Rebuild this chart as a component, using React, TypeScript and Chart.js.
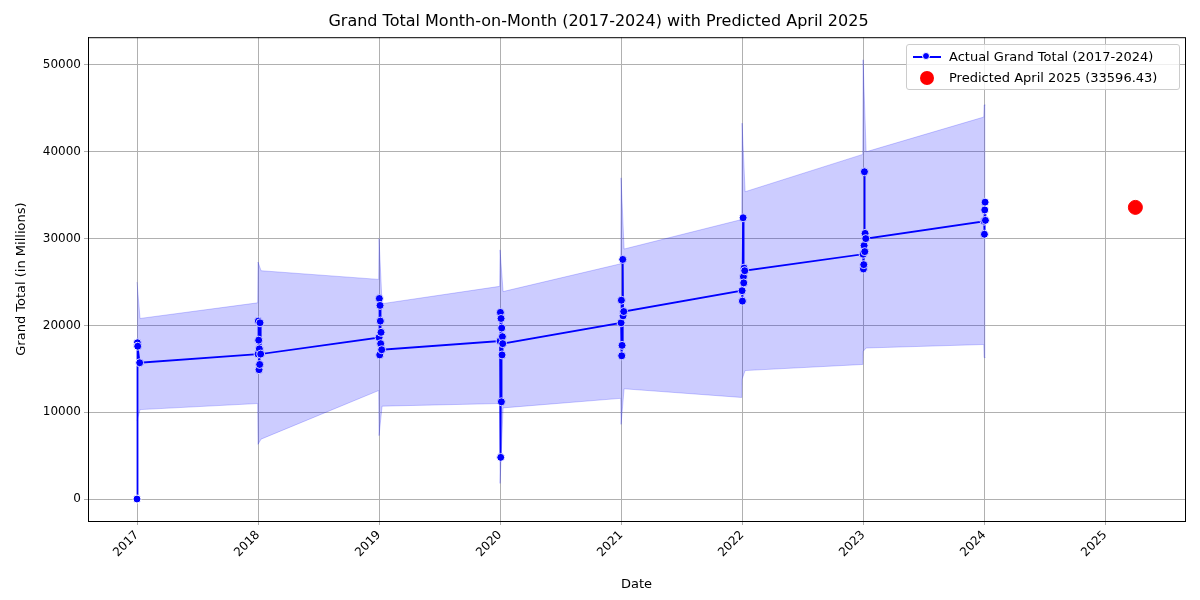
import { useEffect, useRef } from "react";
import Chart from "chart.js/auto";

const years = [2017, 2018, 2019, 2020, 2021, 2022, 2023, 2024];
// per year: [day offset in January, value]
const actual: [number, number][][] = [
  [[0, 0], [1, 18000], [2, 17600], [8, 15700]],
  [[0, 16700], [1, 20500], [2, 18300], [3, 14900], [4, 17300], [5, 15500], [6, 20300], [8, 16700]],
  [[0, 18600], [1, 23100], [2, 16600], [3, 22300], [4, 20500], [5, 17900], [6, 19200], [8, 17200]],
  [[0, 18200], [1, 21500], [2, 4800], [3, 20800], [4, 11200], [5, 19700], [6, 16600], [7, 18700], [8, 17900]],
  [[0, 20300], [1, 22900], [2, 16500], [3, 17700], [5, 27600], [6, 21100], [8, 21600]],
  [[0, 24000], [1, 22800], [3, 32400], [4, 25600], [5, 24900], [6, 26600], [8, 26300]],
  [[0, 28200], [1, 26500], [2, 27000], [3, 29200], [4, 37700], [5, 28500], [6, 30600], [8, 30000]],
  [[0, 32000], [1, 30500], [2, 33300], [3, 34200], [4, 32100]],
];
// band: spike at Jan 1, start after January cluster, end before next year
const upperSpike = [25000, 27300, 30000, 28700, 37000, 43300, 50600, 45400];
const upperStart = [20800, 26300, 22500, 23900, 28800, 35400, 40000];
const upperEnd = [22600, 25300, 24500, 27100, 32200, 39700, 44000];
const lowerSpike = [9000, 6300, 7300, 1800, 8600, 13800, 17000, 16300];
const lowerStart = [10300, 6900, 10700, 10500, 12700, 14800, 17400];
const lowerEnd = [11000, 12500, 11000, 11600, 11700, 15500, 17800];
const predictedX = 2025.25;
const predictedY = 33596.43;
const xTicks = [2017, 2018, 2019, 2020, 2021, 2022, 2023, 2024, 2025];

function band(spike: number[], start: number[], end: number[]) {
  const pts: { x: number; y: number }[] = [];
  years.forEach((yr, i) => {
    pts.push({ x: yr, y: spike[i] });
    if (i < start.length) {
      pts.push({ x: yr + 0.025, y: start[i] });
      pts.push({ x: yr + 0.997, y: end[i] });
    } else {
      pts.push({ x: yr + 0.012, y: spike[i] });
    }
  });
  return pts;
}

const frame = {
  id: "frame",
  afterDraw(chart: any) {
    const { ctx, chartArea: a } = chart;
    ctx.save();
    ctx.strokeStyle = "#000";
    ctx.lineWidth = 1;
    ctx.strokeRect(a.left + 0.5, a.top + 0.5, a.right - a.left, a.bottom - a.top);
    ctx.restore();
  },
};

export default function App() {
  const ref = useRef<HTMLCanvasElement>(null);
  useEffect(() => {
    if (!ref.current) return;
    const pts = years.flatMap((yr, i) => actual[i].map(([d, v]) => ({ x: yr + d / 365, y: v })));
    const font = "'DejaVu Sans', sans-serif";
    const chart = new Chart(ref.current, {
      type: "scatter",
      plugins: [frame],
      data: {
        datasets: [
          {
            data: band(upperSpike, upperStart, upperEnd),
            showLine: true, pointRadius: 0, borderWidth: 1,
            borderColor: "rgba(0,0,255,0.2)", backgroundColor: "rgba(0,0,255,0.2)",
            fill: "+1",
          },
          {
            data: band(lowerSpike, lowerStart, lowerEnd),
            showLine: true, pointRadius: 0, borderWidth: 1,
            borderColor: "rgba(0,0,255,0.2)", fill: false,
          },
          {
            data: pts, showLine: true, borderColor: "#0000ff", borderWidth: 1.8,
            pointRadius: 4, pointBackgroundColor: "#0000ff", pointBorderColor: "#fff", pointBorderWidth: 1,
          },
          {
            data: [{ x: predictedX, y: predictedY }],
            pointRadius: 7, pointBackgroundColor: "#ff0000", pointBorderColor: "#ff0000",
          },
        ],
      },
      options: {
        animation: false, responsive: false,
        layout: { padding: { left: 12, right: 15, bottom: 8 } },
        plugins: {
          legend: { display: false }, tooltip: { enabled: false },
          title: {
            display: true, text: "Grand Total Month-on-Month (2017-2024) with Predicted April 2025",
            color: "#000", font: { family: font, size: 16, weight: "normal" }, padding: { top: 12, bottom: 6 },
          },
        },
        scales: {
          x: {
            type: "linear", min: 2016.595, max: 2025.66,
            afterBuildTicks: (s: any) => { s.ticks = xTicks.map((v) => ({ value: v })); },
            afterFit: (s: any) => { s.height = 71; },
            grid: { color: "#b0b0b0", tickLength: 4 },
            border: { color: "#000" },
            ticks: { color: "#000", maxRotation: 45, minRotation: 45, font: { family: font, size: 12 }, callback: (v: any) => String(v) },
            title: { display: true, text: "Date", color: "#000", font: { family: font, size: 13 }, padding: { top: -6, bottom: 0 } },
          },
          y: {
            min: -2530, max: 53200,
            afterBuildTicks: (s: any) => { s.ticks = [0, 10000, 20000, 30000, 40000, 50000].map((v) => ({ value: v })); },
            afterFit: (s: any) => { s.width = 76; },
            grid: { color: "#b0b0b0", tickLength: 4 },
            border: { color: "#000" },
            ticks: { color: "#000", font: { family: font, size: 12 }, callback: (v: any) => String(v) },
            title: { display: true, text: "Grand Total (in Millions)", color: "#000", font: { family: font, size: 13 }, padding: 2 },
          },
        },
      },
    });
    return () => chart.destroy();
  }, []);
  const item = { display: "flex", alignItems: "center", gap: 8, height: 21 } as const;
  return (
    <div style={{ position: "relative", width: 1200, height: 600, margin: -8, fontFamily: "'DejaVu Sans', sans-serif", fontSize: 13 }}>
      <canvas ref={ref} width={1200} height={600} />
      <div style={{ position: "absolute", left: 906, top: 44, width: 260, padding: "1px 6px", background: "rgba(255,255,255,0.8)", border: "1px solid #ccc", borderRadius: 3 }}>
        <div style={item}>
          <span style={{ position: "relative", width: 28, height: 2, background: "#0000ff" }}>
            <span style={{ position: "absolute", left: 9, top: -4, width: 8, height: 8, borderRadius: 5, background: "#0000ff", border: "1px solid #fff", boxSizing: "border-box" }} />
          </span>
          Actual Grand Total (2017-2024)
        </div>
        <div style={item}>
          <span style={{ width: 28, display: "flex", justifyContent: "center" }}>
            <span style={{ width: 14, height: 14, borderRadius: 7, background: "#ff0000" }} />
          </span>
          Predicted April 2025 (33596.43)
        </div>
      </div>
    </div>
  );
}
